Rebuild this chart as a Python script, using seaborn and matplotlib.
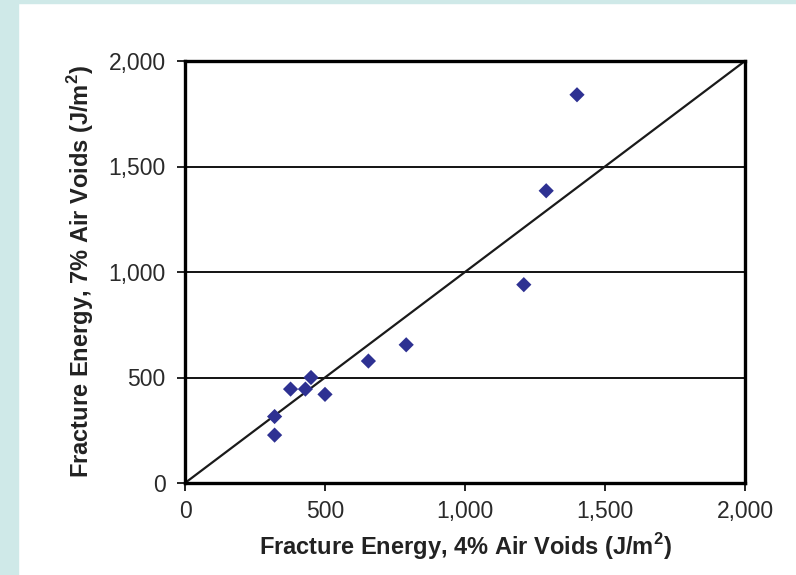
import matplotlib
matplotlib.use("Agg")
import matplotlib.pyplot as plt
import seaborn as sns
import pandas as pd
from matplotlib.patches import Rectangle

# Fracture energy (J/m^2) at 4% and 7% air voids
energy_4pct = [1400, 1290, 1210, 790, 655, 450, 377, 430, 500, 320, 320]
energy_7pct = [1840, 1385, 940, 655, 578, 500, 445, 445, 420, 315, 227]
equality_line = [0, 2000]
tick_values = [0, 500, 1000, 1500, 2000]
tick_labels = ["0", "500", "1,000", "1,500", "2,000"]

df = pd.DataFrame({"e4": energy_4pct, "e7": energy_7pct})

sns.set_style("white")
plt.rcParams["font.family"] = ["Liberation Sans", "DejaVu Sans"]

fig = plt.figure(figsize=(7.96, 5.75), dpi=100)
fig.patches.append(Rectangle((0, 0), 18 / 796, 1, transform=fig.transFigure,
                             color="#cfe9e8", zorder=0))
fig.patches.append(Rectangle((0, 1 - 3 / 575), 1, 3 / 575, transform=fig.transFigure,
                             color="#cfe9e8", zorder=0))
ax = fig.add_axes([185 / 796, 1 - 483 / 575, 560 / 796, 422 / 575])

for y in [500, 1000, 1500]:
    ax.axhline(y, color="black", lw=1.3, zorder=1)
ax.plot(equality_line, equality_line, color="#1a1a1a", lw=1.6, zorder=2)
sns.scatterplot(data=df, x="e4", y="e7", marker="D", s=60, color="#2e3192",
                edgecolor="none", ax=ax, zorder=3)

ax.set_xlim(0, 2000)
ax.set_ylim(0, 2000)
ax.set_xticks(tick_values)
ax.set_xticklabels(tick_labels)
ax.set_yticks(tick_values)
ax.set_yticklabels(tick_labels)
ax.tick_params(axis="both", direction="out", length=6, width=1.2, color="black",
               labelsize=16.5, labelcolor="#2a2a2a")
ax.tick_params(axis="x", bottom=True, pad=6)
ax.tick_params(axis="y", left=True, pad=8)
for s in ax.spines.values():
    s.set_visible(True)
    s.set_color("black")
    s.set_linewidth(2.4)

ax.set_xlabel("Fracture Energy, 4% Air Voids (J/m$^\\mathregular{2}$)", fontsize=17,
              fontweight="bold", color="#222222", labelpad=6)
ax.set_ylabel("Fracture Energy, 7% Air Voids (J/m$^\\mathregular{2}$)", fontsize=17,
              fontweight="bold", color="#222222", labelpad=9)

fig.savefig("out.png", dpi=100)
